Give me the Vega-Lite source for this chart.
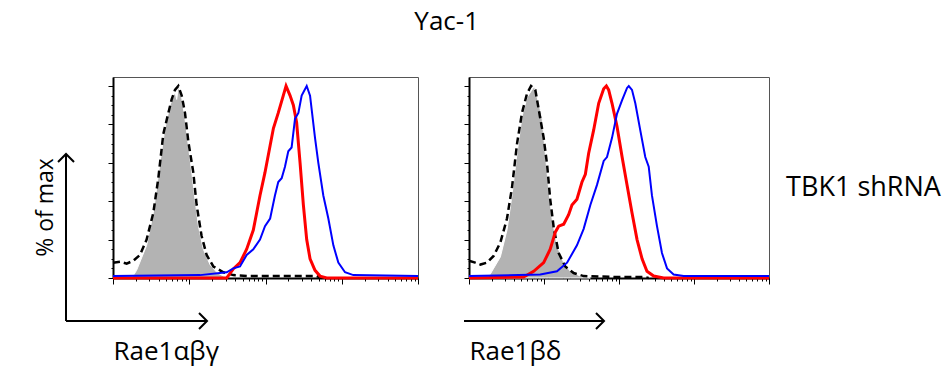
{
  "$schema": "https://vega.github.io/schema/vega-lite/v6.json",
  "padding": {"left": 34, "top": 8, "right": 0, "bottom": 10},
  "background": "white",
  "title": {"text": "Yac-1", "font": "Open Sans", "fontSize": 26, "fontWeight": "normal", "color": "black", "anchor": "middle", "offset": 42, "dx": -41},
  "config": {
    "font": "Open Sans",
    "view": {"stroke": "#555", "strokeWidth": 1},
    "axis": {"grid": false, "labels": false, "domainColor": "black", "domainWidth": 2, "tickColor": "black", "tickWidth": 1, "titleFont": "Open Sans", "titleFontSize": 26, "titleFontWeight": "normal", "titleColor": "black"}
  },
  "datasets": {
    "h": [
      {"p":"L","s":"gray","x":1.76,"y":0},{"p":"L","s":"gray","x":2.04,"y":4},{"p":"L","s":"gray","x":2.76,"y":17},{"p":"L","s":"gray","x":3.38,"y":34},{"p":"L","s":"gray","x":4.13,"y":60},{"p":"L","s":"gray","x":4.81,"y":78},{"p":"L","s":"gray","x":5.59,"y":90},{"p":"L","s":"gray","x":6.5,"y":97},{"p":"L","s":"gray","x":6.85,"y":93},{"p":"L","s":"gray","x":7.19,"y":100},{"p":"L","s":"gray","x":7.96,"y":94},{"p":"L","s":"gray","x":8.79,"y":83},{"p":"L","s":"gray","x":9.73,"y":69},{"p":"L","s":"gray","x":10.8,"y":55},{"p":"L","s":"gray","x":11.9,"y":41},{"p":"L","s":"gray","x":13.2,"y":27},{"p":"L","s":"gray","x":15.3,"y":15},{"p":"L","s":"gray","x":18.7,"y":7},{"p":"L","s":"gray","x":22.9,"y":3},{"p":"L","s":"gray","x":31,"y":0},
      {"p":"L","s":"ctrl","x":1,"y":8},{"p":"L","s":"ctrl","x":1.24,"y":8.5},{"p":"L","s":"ctrl","x":1.51,"y":7.5},{"p":"L","s":"ctrl","x":1.85,"y":9},{"p":"L","s":"ctrl","x":2.26,"y":12},{"p":"L","s":"ctrl","x":2.76,"y":20},{"p":"L","s":"ctrl","x":3.38,"y":34},{"p":"L","s":"ctrl","x":3.93,"y":52},{"p":"L","s":"ctrl","x":4.57,"y":75},{"p":"L","s":"ctrl","x":5.32,"y":86},{"p":"L","s":"ctrl","x":5.88,"y":93},{"p":"L","s":"ctrl","x":6.5,"y":98},{"p":"L","s":"ctrl","x":7.19,"y":100},{"p":"L","s":"ctrl","x":7.96,"y":95},{"p":"L","s":"ctrl","x":8.79,"y":86},{"p":"L","s":"ctrl","x":9.73,"y":71},{"p":"L","s":"ctrl","x":11.3,"y":55},{"p":"L","s":"ctrl","x":12.5,"y":38},{"p":"L","s":"ctrl","x":14.5,"y":22},{"p":"L","s":"ctrl","x":16.9,"y":12},{"p":"L","s":"ctrl","x":20.7,"y":6},{"p":"L","s":"ctrl","x":28,"y":3},{"p":"L","s":"ctrl","x":37.8,"y":1.5},{"p":"L","s":"ctrl","x":62.6,"y":1},{"p":"L","s":"ctrl","x":171,"y":1},{"p":"L","s":"ctrl","x":469,"y":1},{"p":"L","s":"ctrl","x":545,"y":0},
      {"p":"L","s":"red","x":1,"y":0},{"p":"L","s":"red","x":31,"y":0},{"p":"L","s":"red","x":37.8,"y":4.7},{"p":"L","s":"red","x":46.3,"y":8},{"p":"L","s":"red","x":56.6,"y":15},{"p":"L","s":"red","x":69.2,"y":25},{"p":"L","s":"red","x":76.6,"y":34},{"p":"L","s":"red","x":84.7,"y":43},{"p":"L","s":"red","x":98.5,"y":55},{"p":"L","s":"red","x":115,"y":69},{"p":"L","s":"red","x":127,"y":78},{"p":"L","s":"red","x":147,"y":86},{"p":"L","s":"red","x":171,"y":95},{"p":"L","s":"red","x":186,"y":100},{"p":"L","s":"red","x":210,"y":95},{"p":"L","s":"red","x":232,"y":90},{"p":"L","s":"red","x":256,"y":81},{"p":"L","s":"red","x":284,"y":60},{"p":"L","s":"red","x":314,"y":38},{"p":"L","s":"red","x":347,"y":20},{"p":"L","s":"red","x":384,"y":10},{"p":"L","s":"red","x":446,"y":4},{"p":"L","s":"red","x":519,"y":1},{"p":"L","s":"red","x":634,"y":0},{"p":"L","s":"red","x":10000,"y":0},
      {"p":"L","s":"blue","x":1,"y":1},{"p":"L","s":"blue","x":13.8,"y":1.5},{"p":"L","s":"blue","x":31,"y":3},{"p":"L","s":"blue","x":37.8,"y":5},{"p":"L","s":"blue","x":46.3,"y":6},{"p":"L","s":"blue","x":56.6,"y":12},{"p":"L","s":"blue","x":69.2,"y":15},{"p":"L","s":"blue","x":84.7,"y":20},{"p":"L","s":"blue","x":98.5,"y":27},{"p":"L","s":"blue","x":115,"y":31},{"p":"L","s":"blue","x":133,"y":43},{"p":"L","s":"blue","x":147,"y":50},{"p":"L","s":"blue","x":163,"y":52},{"p":"L","s":"blue","x":180,"y":58},{"p":"L","s":"blue","x":199,"y":66},{"p":"L","s":"blue","x":220,"y":68},{"p":"L","s":"blue","x":244,"y":83},{"p":"L","s":"blue","x":270,"y":86},{"p":"L","s":"blue","x":298,"y":95},{"p":"L","s":"blue","x":347,"y":100},{"p":"L","s":"blue","x":384,"y":95},{"p":"L","s":"blue","x":446,"y":73},{"p":"L","s":"blue","x":493,"y":60},{"p":"L","s":"blue","x":573,"y":43},{"p":"L","s":"blue","x":667,"y":31},{"p":"L","s":"blue","x":776,"y":17},{"p":"L","s":"blue","x":902,"y":8},{"p":"L","s":"blue","x":1104,"y":3},{"p":"L","s":"blue","x":1419,"y":1.5},{"p":"L","s":"blue","x":10000,"y":1},
      {"p":"R","s":"gray","x":1.74,"y":0},{"p":"R","s":"gray","x":1.92,"y":2},{"p":"R","s":"gray","x":2.62,"y":11},{"p":"R","s":"gray","x":3.21,"y":25},{"p":"R","s":"gray","x":3.74,"y":43},{"p":"R","s":"gray","x":4.37,"y":65},{"p":"R","s":"gray","x":5.09,"y":84},{"p":"R","s":"gray","x":5.93,"y":94},{"p":"R","s":"gray","x":6.92,"y":98},{"p":"R","s":"gray","x":7.43,"y":100},{"p":"R","s":"gray","x":8.49,"y":91},{"p":"R","s":"gray","x":9.4,"y":84},{"p":"R","s":"gray","x":10.4,"y":65},{"p":"R","s":"gray","x":11.5,"y":47},{"p":"R","s":"gray","x":12.8,"y":31},{"p":"R","s":"gray","x":14.9,"y":17},{"p":"R","s":"gray","x":18.3,"y":8},{"p":"R","s":"gray","x":22.4,"y":3.5},{"p":"R","s":"gray","x":30.5,"y":1},{"p":"R","s":"gray","x":41.5,"y":0},
      {"p":"R","s":"ctrl","x":1,"y":9},{"p":"R","s":"ctrl","x":1.21,"y":8},{"p":"R","s":"ctrl","x":1.42,"y":7},{"p":"R","s":"ctrl","x":1.74,"y":8},{"p":"R","s":"ctrl","x":2.13,"y":11.5},{"p":"R","s":"ctrl","x":2.62,"y":18.5},{"p":"R","s":"ctrl","x":3.21,"y":31},{"p":"R","s":"ctrl","x":3.74,"y":47},{"p":"R","s":"ctrl","x":4.37,"y":70},{"p":"R","s":"ctrl","x":5.09,"y":86},{"p":"R","s":"ctrl","x":5.93,"y":96},{"p":"R","s":"ctrl","x":6.71,"y":100},{"p":"R","s":"ctrl","x":7.66,"y":98},{"p":"R","s":"ctrl","x":8.49,"y":88},{"p":"R","s":"ctrl","x":9.9,"y":73},{"p":"R","s":"ctrl","x":11,"y":59},{"p":"R","s":"ctrl","x":12.1,"y":41},{"p":"R","s":"ctrl","x":13.5,"y":26},{"p":"R","s":"ctrl","x":15.7,"y":13},{"p":"R","s":"ctrl","x":19.2,"y":6},{"p":"R","s":"ctrl","x":24.9,"y":2.6},{"p":"R","s":"ctrl","x":33.8,"y":1},{"p":"R","s":"ctrl","x":94,"y":0.5},{"p":"R","s":"ctrl","x":213,"y":0.5},{"p":"R","s":"ctrl","x":249,"y":0},
      {"p":"R","s":"red","x":1,"y":0},{"p":"R","s":"red","x":5.35,"y":0.5},{"p":"R","s":"red","x":7.28,"y":3.5},{"p":"R","s":"red","x":9.9,"y":8},{"p":"R","s":"red","x":12.1,"y":15},{"p":"R","s":"red","x":14.2,"y":24},{"p":"R","s":"red","x":15.7,"y":27},{"p":"R","s":"red","x":18.3,"y":28},{"p":"R","s":"red","x":21.3,"y":33},{"p":"R","s":"red","x":23.6,"y":38},{"p":"R","s":"red","x":27.5,"y":41},{"p":"R","s":"red","x":32.1,"y":50},{"p":"R","s":"red","x":35.6,"y":54},{"p":"R","s":"red","x":39.4,"y":65},{"p":"R","s":"red","x":45.9,"y":77},{"p":"R","s":"red","x":53.6,"y":91},{"p":"R","s":"red","x":62.5,"y":98.6},{"p":"R","s":"red","x":67.8,"y":100},{"p":"R","s":"red","x":72.8,"y":98},{"p":"R","s":"red","x":80.7,"y":91},{"p":"R","s":"red","x":94,"y":79},{"p":"R","s":"red","x":110,"y":63},{"p":"R","s":"red","x":128,"y":48.5},{"p":"R","s":"red","x":149,"y":34},{"p":"R","s":"red","x":174,"y":20},{"p":"R","s":"red","x":203,"y":10},{"p":"R","s":"red","x":236,"y":3.5},{"p":"R","s":"red","x":290,"y":1},{"p":"R","s":"red","x":394,"y":0},{"p":"R","s":"red","x":10000,"y":0},
      {"p":"R","s":"blue","x":1,"y":1},{"p":"R","s":"blue","x":8.93,"y":1.8},{"p":"R","s":"blue","x":14.9,"y":3.5},{"p":"R","s":"blue","x":20.3,"y":8},{"p":"R","s":"blue","x":27.5,"y":17},{"p":"R","s":"blue","x":33.8,"y":25.6},{"p":"R","s":"blue","x":41.5,"y":38},{"p":"R","s":"blue","x":50.9,"y":48.5},{"p":"R","s":"blue","x":62.5,"y":61},{"p":"R","s":"blue","x":69.2,"y":63},{"p":"R","s":"blue","x":80.7,"y":73},{"p":"R","s":"blue","x":94,"y":85.5},{"p":"R","s":"blue","x":110,"y":92.6},{"p":"R","s":"blue","x":128,"y":99},{"p":"R","s":"blue","x":135,"y":100},{"p":"R","s":"blue","x":149,"y":98},{"p":"R","s":"blue","x":165,"y":91},{"p":"R","s":"blue","x":192,"y":77},{"p":"R","s":"blue","x":224,"y":63},{"p":"R","s":"blue","x":249,"y":58},{"p":"R","s":"blue","x":275,"y":43},{"p":"R","s":"blue","x":321,"y":27},{"p":"R","s":"blue","x":374,"y":13},{"p":"R","s":"blue","x":437,"y":5},{"p":"R","s":"blue","x":535,"y":1.8},{"p":"R","s":"blue","x":728,"y":1},{"p":"R","s":"blue","x":10000,"y":1}
    ],
    "arrL": [{"x":0.242,"y":64.6,"x2":0.242,"y2":-22.4},{"x":0.242,"y":-22.4,"x2":17.1,"y2":-22.4}],
    "headL": [{"x":0.242,"y":64.6,"d":"up"},{"x":17.1,"y":-22.4,"d":"right"}],
    "arrR": [{"x":0.858,"y":-22.4,"x2":63.1,"y2":-22.4}],
    "headR": [{"x":63.1,"y":-22.4,"d":"right"}],
    "lab": [{"x":16900,"y":47,"t":"TBK1 shRNA"}]
  },
  "spacing": 37,
  "hconcat": [
    {
      "width": 305, "height": 201,
      "encoding": {
        "x": {"field": "x", "type": "quantitative", "scale": {"type": "log", "domain": [1, 10000]},
          "axis": {"title": "Rae1αβγ", "values": [1,2,3,4,5,6,7,8,9,10,20,30,40,50,60,70,80,90,100,200,300,400,500,600,700,800,900,1000,2000,3000,4000,5000,6000,7000,8000,9000,10000],
            "tickSize": {"condition": {"test": "indexof([1,10,100,1000,10000], datum.value) >= 0", "value": 6}, "value": 3},
            "titleAnchor": "start", "titleAlign": "left", "titlePadding": 54}},
        "y": {"field": "y", "type": "quantitative", "scale": {"domain": [0, 104.7]},
          "axis": {"title": "% of max", "titleFontSize": 23, "values": [0,5,10,15,20,25,30,35,40,45,50,55,60,65,70,75,80,85,90,95,100],
            "tickSize": {"condition": {"test": "datum.value % 20 === 0", "value": 5}, "value": 2},
            "titlePadding": 50, "titleY": 130}}
      },
      "layer": [
        {"data": {"name": "h"}, "transform": [{"filter": "datum.p === 'L' && datum.s === 'gray'"}], "mark": {"type": "area", "color": "#b3b3b3", "stroke": "white", "strokeWidth": 1}},
        {"data": {"name": "h"}, "transform": [{"filter": "datum.p === 'L' && datum.s === 'ctrl'"}], "mark": {"type": "line", "color": "black", "strokeWidth": 2.5, "strokeDash": [7, 4]}},
        {"data": {"name": "h"}, "transform": [{"filter": "datum.p === 'L' && datum.s === 'red'"}], "mark": {"type": "line", "color": "#ff0000", "strokeWidth": 3}},
        {"data": {"name": "h"}, "transform": [{"filter": "datum.p === 'L' && datum.s === 'blue'"}], "mark": {"type": "line", "color": "#0000ff", "strokeWidth": 2}},
        {"data": {"name": "arrL"}, "mark": {"type": "rule", "color": "black", "strokeWidth": 2}, "encoding": {"x2": {"field": "x2"}, "y2": {"field": "y2"}}},
        {"data": {"name": "headL"}, "mark": {"type": "point", "filled": false, "color": "black", "strokeWidth": 2, "size": 256, "opacity": 1},
          "encoding": {"shape": {"field": "d", "type": "nominal", "scale": {"domain": ["up", "right"], "range": ["M -1 1 L 0 0 L 1 1", "M -1 -1 L 0 0 L -1 1"]}, "legend": null}}}
      ]
    },
    {
      "width": 300, "height": 201,
      "encoding": {
        "x": {"field": "x", "type": "quantitative", "scale": {"type": "log", "domain": [1, 10000]},
          "axis": {"title": "Rae1βδ", "values": [1,2,3,4,5,6,7,8,9,10,20,30,40,50,60,70,80,90,100,200,300,400,500,600,700,800,900,1000,2000,3000,4000,5000,6000,7000,8000,9000,10000],
            "tickSize": {"condition": {"test": "indexof([1,10,100,1000,10000], datum.value) >= 0", "value": 6}, "value": 3},
            "titleAnchor": "start", "titleAlign": "left", "titlePadding": 54}},
        "y": {"field": "y", "type": "quantitative", "scale": {"domain": [0, 104.7]},
          "axis": {"title": null, "values": [0,5,10,15,20,25,30,35,40,45,50,55,60,65,70,75,80,85,90,95,100],
            "tickSize": {"condition": {"test": "datum.value % 20 === 0", "value": 5}, "value": 2}}}
      },
      "layer": [
        {"data": {"name": "h"}, "transform": [{"filter": "datum.p === 'R' && datum.s === 'gray'"}], "mark": {"type": "area", "color": "#b3b3b3", "stroke": "white", "strokeWidth": 1}},
        {"data": {"name": "h"}, "transform": [{"filter": "datum.p === 'R' && datum.s === 'ctrl'"}], "mark": {"type": "line", "color": "black", "strokeWidth": 2.5, "strokeDash": [7, 4]}},
        {"data": {"name": "h"}, "transform": [{"filter": "datum.p === 'R' && datum.s === 'red'"}], "mark": {"type": "line", "color": "#ff0000", "strokeWidth": 3}},
        {"data": {"name": "h"}, "transform": [{"filter": "datum.p === 'R' && datum.s === 'blue'"}], "mark": {"type": "line", "color": "#0000ff", "strokeWidth": 2}},
        {"data": {"name": "arrR"}, "mark": {"type": "rule", "color": "black", "strokeWidth": 2}, "encoding": {"x2": {"field": "x2"}, "y2": {"field": "y2"}}},
        {"data": {"name": "headR"}, "mark": {"type": "point", "filled": false, "color": "black", "strokeWidth": 2, "size": 256, "opacity": 1, "shape": "M -1 -1 L 0 0 L -1 1"}},
        {"data": {"name": "lab"}, "mark": {"type": "text", "align": "left", "baseline": "middle", "fontSize": 27, "font": "Open Sans", "color": "black"}, "encoding": {"text": {"field": "t"}}}
      ]
    }
  ]
}
